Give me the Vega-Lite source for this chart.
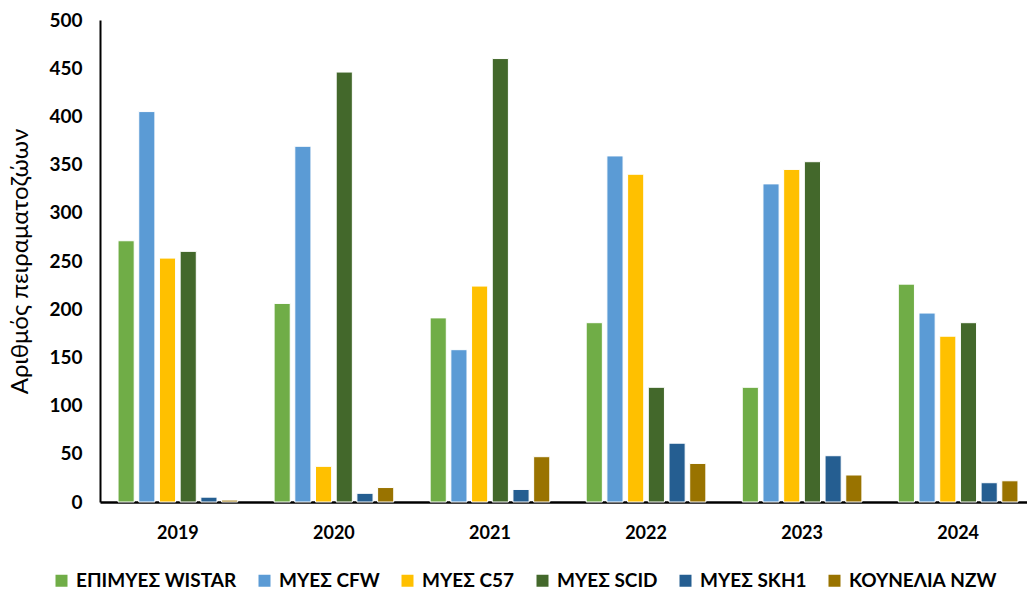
{
  "$schema": "https://vega.github.io/schema/vega-lite/v6.json",
  "width": 936,
  "height": 482,
  "autosize": {"type": "none"},
  "padding": {"left": 100, "right": -9, "top": 20, "bottom": 89},
  "config": {
    "view": {"stroke": null},
    "font": "Lato",
    "axis": {"grid": false, "ticks": false, "domainColor": "#000000", "labelColor": "#000000", "titleColor": "#000000", "labelFont": "Lato", "titleFont": "Lato"},
    "legend": {"labelFont": "Lato"}
  },
  "data": {
    "values": [
      {"year": "2019", "s": "ΕΠΙΜΥΕΣ WISTAR", "v": 271},
      {"year": "2019", "s": "ΜΥΕΣ CFW", "v": 405},
      {"year": "2019", "s": "ΜΥΕΣ C57", "v": 253},
      {"year": "2019", "s": "ΜΥΕΣ SCID", "v": 260},
      {"year": "2019", "s": "ΜΥΕΣ SKH1", "v": 5},
      {"year": "2019", "s": "ΚΟΥΝΕΛΙΑ NZW", "v": 2},
      {"year": "2020", "s": "ΕΠΙΜΥΕΣ WISTAR", "v": 206},
      {"year": "2020", "s": "ΜΥΕΣ CFW", "v": 369},
      {"year": "2020", "s": "ΜΥΕΣ C57", "v": 37},
      {"year": "2020", "s": "ΜΥΕΣ SCID", "v": 446},
      {"year": "2020", "s": "ΜΥΕΣ SKH1", "v": 9},
      {"year": "2020", "s": "ΚΟΥΝΕΛΙΑ NZW", "v": 15},
      {"year": "2021", "s": "ΕΠΙΜΥΕΣ WISTAR", "v": 191},
      {"year": "2021", "s": "ΜΥΕΣ CFW", "v": 158},
      {"year": "2021", "s": "ΜΥΕΣ C57", "v": 224},
      {"year": "2021", "s": "ΜΥΕΣ SCID", "v": 460},
      {"year": "2021", "s": "ΜΥΕΣ SKH1", "v": 13},
      {"year": "2021", "s": "ΚΟΥΝΕΛΙΑ NZW", "v": 47},
      {"year": "2022", "s": "ΕΠΙΜΥΕΣ WISTAR", "v": 186},
      {"year": "2022", "s": "ΜΥΕΣ CFW", "v": 359},
      {"year": "2022", "s": "ΜΥΕΣ C57", "v": 340},
      {"year": "2022", "s": "ΜΥΕΣ SCID", "v": 119},
      {"year": "2022", "s": "ΜΥΕΣ SKH1", "v": 61},
      {"year": "2022", "s": "ΚΟΥΝΕΛΙΑ NZW", "v": 40},
      {"year": "2023", "s": "ΕΠΙΜΥΕΣ WISTAR", "v": 119},
      {"year": "2023", "s": "ΜΥΕΣ CFW", "v": 330},
      {"year": "2023", "s": "ΜΥΕΣ C57", "v": 345},
      {"year": "2023", "s": "ΜΥΕΣ SCID", "v": 353},
      {"year": "2023", "s": "ΜΥΕΣ SKH1", "v": 48},
      {"year": "2023", "s": "ΚΟΥΝΕΛΙΑ NZW", "v": 28},
      {"year": "2024", "s": "ΕΠΙΜΥΕΣ WISTAR", "v": 226},
      {"year": "2024", "s": "ΜΥΕΣ CFW", "v": 196},
      {"year": "2024", "s": "ΜΥΕΣ C57", "v": 172},
      {"year": "2024", "s": "ΜΥΕΣ SCID", "v": 186},
      {"year": "2024", "s": "ΜΥΕΣ SKH1", "v": 20},
      {"year": "2024", "s": "ΚΟΥΝΕΛΙΑ NZW", "v": 22}
    ]
  },
  "mark": {"type": "bar", "stroke": "#ffffff", "strokeWidth": 1},
  "encoding": {
    "x": {
      "field": "year", "type": "nominal", "title": null,
      "scale": {"paddingInner": 0.22, "paddingOuter": 0.109},
      "axis": {"labelAngle": 0, "labelFontSize": 18, "labelFontWeight": "bold", "labelPadding": 22, "domainWidth": 2.5}
    },
    "xOffset": {
      "field": "s", "type": "nominal",
      "sort": ["ΕΠΙΜΥΕΣ WISTAR", "ΜΥΕΣ CFW", "ΜΥΕΣ C57", "ΜΥΕΣ SCID", "ΜΥΕΣ SKH1", "ΚΟΥΝΕΛΙΑ NZW"],
      "scale": {"paddingInner": 0.22, "paddingOuter": 0.05}
    },
    "y": {
      "field": "v", "type": "quantitative", "title": "Αριθμός πειραματοζώων",
      "scale": {"domain": [0, 500]},
      "axis": {"values": [0, 50, 100, 150, 200, 250, 300, 350, 400, 450, 500], "labelFontSize": 19, "labelFontWeight": "bold", "labelPadding": 18, "titleFontSize": 24, "titleFontWeight": "normal", "titlePadding": 16, "domainWidth": 2}
    },
    "color": {
      "field": "s", "type": "nominal", "title": null,
      "sort": ["ΕΠΙΜΥΕΣ WISTAR", "ΜΥΕΣ CFW", "ΜΥΕΣ C57", "ΜΥΕΣ SCID", "ΜΥΕΣ SKH1", "ΚΟΥΝΕΛΙΑ NZW"],
      "scale": {
        "domain": ["ΕΠΙΜΥΕΣ WISTAR", "ΜΥΕΣ CFW", "ΜΥΕΣ C57", "ΜΥΕΣ SCID", "ΜΥΕΣ SKH1", "ΚΟΥΝΕΛΙΑ NZW"],
        "range": ["#70AD47", "#5B9BD5", "#FFC000", "#43682B", "#255E91", "#997300"]
      },
      "legend": {"orient": "none", "legendX": -48, "legendY": 551, "direction": "horizontal", "symbolType": "square", "symbolSize": 144, "symbolStrokeWidth": 0, "labelFontSize": 19, "labelFontWeight": "bold", "labelColor": "#000000", "labelLimit": 400, "labelOffset": 5, "columnPadding": 18}
    }
  }
}
